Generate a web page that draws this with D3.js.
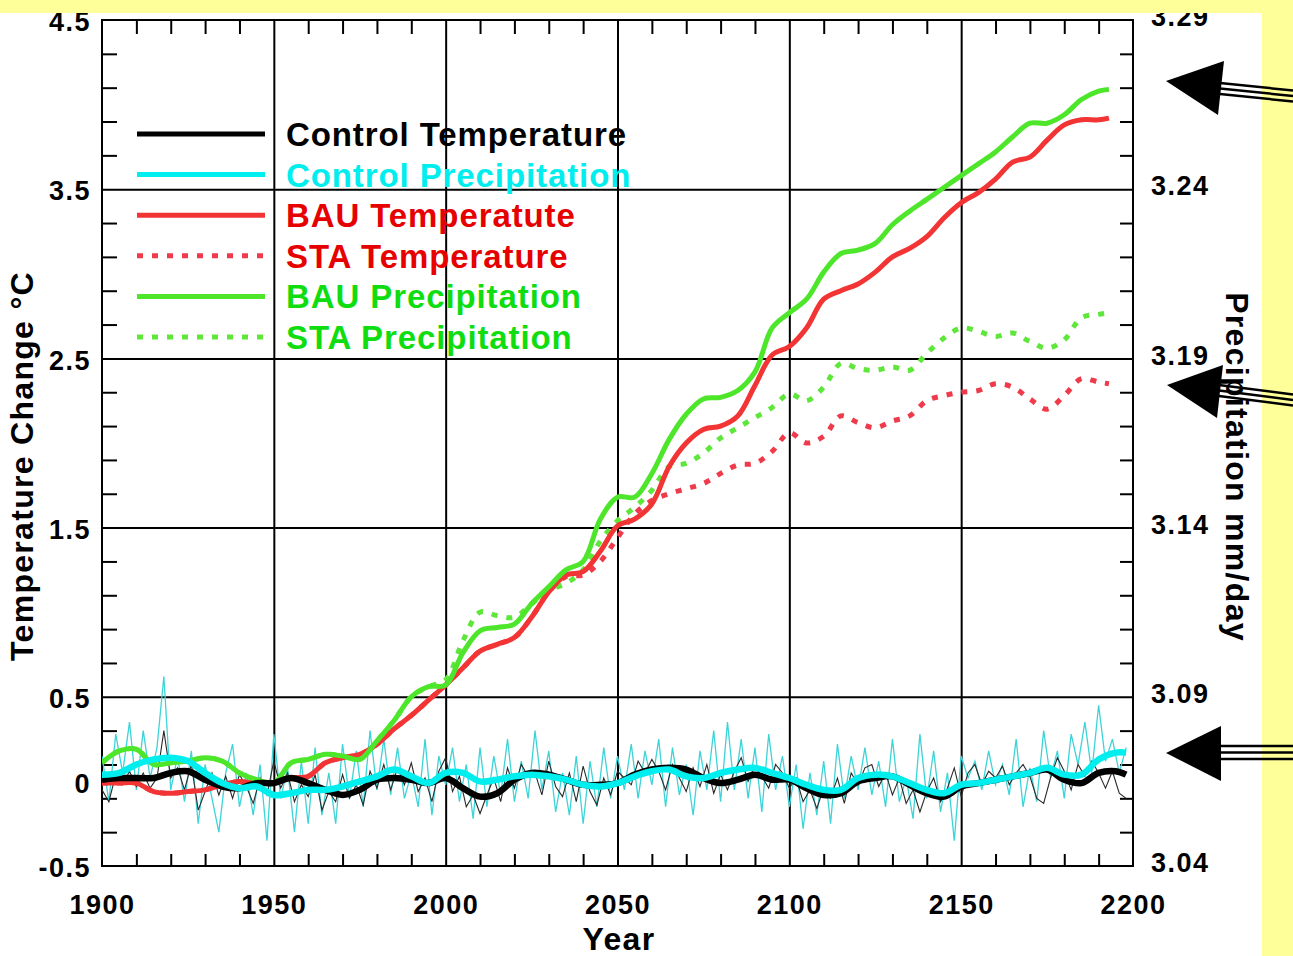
<!DOCTYPE html>
<html lang="en">
<head>
<meta charset="UTF-8">
<title>Temperature and precipitation change</title>
<script src="https://d3js.org/d3.v7.min.js"></script>
<style>
    body { margin: 0; background: #fff; }
    svg { display: block; }
    text { font-family: "Liberation Sans", Arial, Helvetica, sans-serif; font-weight: bold; }
    .domain { display: none; }
    .tick line { stroke: #000; stroke-width: 2; }
    .lbl .tick text { font-size: 27px; fill: #000; letter-spacing: 1.5px; }
    .title { font-size: 32px; fill: #000; letter-spacing: 1.3px; }
    .legend text { font-size: 33px; letter-spacing: 0.9px; }
    .frame { fill: none; stroke: #000; stroke-width: 2; }
    .band { fill: #ffff99; }
</style>
</head>
<body>
<script>
    const W = 1293, H = 956;

    // years of the smoothed curves
    const ctrlYears = [1900,1905,1910,1915,1920,1925,1930,1935,1940,1945,1950,1955,1960,1965,1970,1975,1980,1985,1990,1995,
        2000,2005,2010,2015,2020,2025,2030,2035,2040,2045,2050,2055,2060,2065,2070,2075,2080,2085,2090,2095,
        2100,2105,2110,2115,2120,2125,2130,2135,2140,2145,2150,2155,2160,2165,2170,2175,2180,2185,2190,2195,2198];
    const scenYears = [1900,1905,1910,1915,1920,1925,1930,1935,1940,1945,1950,1955,1960,1965,1970,1975,1980,1985,1990,1995,
        2000,2005,2010,2015,2020,2025,2030,2035,2040,2045,2050,2055,2060,2065,2070,2075,2080,2085,2090,2095,
        2100,2105,2110,2115,2120,2125,2130,2135,2140,2145,2150,2155,2160,2165,2170,2175,2180,2185,2190,2193];
    // years of the raw (thin) control runs
    const annualYears = d3.range(1900, 2199, 2);

    // temperature change, deg C
    const ctrlTempSmooth = [0.01,0.02,0.02,0.02,0.05,0.06,0.01,-0.03,-0.04,-0.01,-0.01,0.02,-0.01,-0.05,-0.08,-0.05,0.01,0.02,0.01,-0.01,
        0.02,-0.04,-0.09,-0.07,0.01,0.05,0.04,0.01,-0.02,-0.02,-0.01,0.04,0.07,0.08,0.07,0.02,-0.01,0.01,0.04,0.01,
        0.01,-0.04,-0.08,-0.07,0.00,0.02,0.03,-0.02,-0.07,-0.09,-0.03,-0.01,0.01,0.03,0.05,0.07,0.01,-0.01,0.05,0.06,0.04];
    const bauTemp = [-0.01,-0.01,-0.01,-0.06,-0.07,-0.06,-0.05,-0.02,0.00,-0.01,-0.01,0.02,0.03,0.11,0.14,0.16,0.22,0.31,0.39,0.48,
        0.57,0.67,0.77,0.81,0.85,0.97,1.12,1.22,1.24,1.36,1.51,1.55,1.64,1.86,2.00,2.08,2.10,2.16,2.34,2.52,
        2.57,2.68,2.85,2.90,2.94,3.01,3.10,3.15,3.22,3.33,3.42,3.48,3.56,3.66,3.69,3.79,3.88,3.91,3.91,3.92];
    const staTemp = [-0.01,-0.01,-0.01,-0.06,-0.07,-0.06,-0.05,-0.02,0.00,-0.01,-0.01,0.02,0.03,0.11,0.14,0.16,0.22,0.31,0.39,0.48,
        0.57,0.67,0.77,0.81,0.85,0.97,1.12,1.21,1.22,1.30,1.44,1.58,1.66,1.70,1.73,1.76,1.82,1.87,1.88,1.95,
        2.06,2.00,2.04,2.16,2.12,2.09,2.13,2.16,2.25,2.28,2.30,2.31,2.35,2.33,2.26,2.20,2.28,2.38,2.36,2.35];
    const ctrlTempAnnual = [-0.05,-0.12,0.04,-0.02,0.06,-0.03,0.05,-0.04,0.02,0.30,0.02,0.08,-0.05,0.10,-0.17,-0.06,0.05,-0.08,0.03,-0.10,
        0.04,-0.03,-0.13,0.02,-0.08,0.12,-0.04,0.05,-0.12,-0.02,-0.09,0.04,-0.17,-0.06,-0.12,0.04,-0.10,-0.02,-0.14,0.06,
        -0.04,0.10,-0.05,0.08,-0.02,0.11,-0.06,0.02,-0.12,0.06,
        0.14,-0.06,0.03,-0.15,-0.08,-0.19,-0.08,0.02,-0.12,0.08,-0.04,0.10,0.03,0.05,-0.08,0.12,-0.03,-0.09,0.05,-0.12,
        0.09,-0.06,-0.14,0.02,-0.08,0.06,0.02,-0.02,0.12,0.05,0.13,0.06,-0.05,0.10,0.02,-0.06,0.08,-0.03,0.10,-0.07,
        0.04,-0.05,0.06,0.14,0.00,0.09,0.03,-0.04,0.10,0.05,
        -0.04,0.02,-0.12,-0.05,-0.16,-0.04,-0.10,0.02,-0.13,0.05,-0.02,0.08,0.10,-0.03,0.05,-0.08,0.02,-0.13,-0.05,-0.18,
        -0.06,0.02,-0.12,-0.04,0.08,-0.09,0.05,0.10,-0.02,0.06,0.02,0.09,-0.02,0.05,0.10,0.03,-0.10,-0.13,0.02,0.14,
        0.06,-0.05,0.10,0.03,0.12,0.05,-0.04,0.06,-0.07,-0.10];

    // precipitation, mm/day
    const ctrlPrecSmooth = [3.067,3.0675,3.070,3.0715,3.072,3.071,3.0675,3.0645,3.063,3.0635,3.061,3.0615,3.0625,3.0625,3.0635,3.065,3.0665,3.0685,3.0665,3.0645,
        3.0675,3.0675,3.065,3.0655,3.0665,3.067,3.0665,3.0655,3.064,3.0635,3.0645,3.0665,3.068,3.0685,3.0665,3.066,3.0675,3.0685,3.069,3.0675,
        3.066,3.064,3.0625,3.0625,3.066,3.067,3.0665,3.0645,3.0625,3.0615,3.064,3.0645,3.0655,3.0665,3.0675,3.069,3.067,3.067,3.0715,3.0735,3.0735];
    const bauPrec = [3.0705,3.074,3.0745,3.070,3.0705,3.071,3.072,3.071,3.0675,3.0655,3.0645,3.0705,3.0715,3.073,3.0725,3.0715,3.077,3.083,3.090,3.093,
        3.0935,3.103,3.1095,3.1105,3.1115,3.1175,3.1225,3.1275,3.130,3.1425,3.149,3.149,3.156,3.166,3.1735,3.178,3.1785,3.1805,3.186,3.199,
        3.2035,3.2075,3.2155,3.221,3.222,3.224,3.2295,3.2335,3.237,3.2405,3.244,3.2475,3.251,3.2555,3.2595,3.2595,3.262,3.2665,3.269,3.2695];
    const staPrec = [3.0705,3.074,3.0745,3.070,3.0705,3.071,3.072,3.071,3.0675,3.0655,3.0645,3.0705,3.0715,3.073,3.0725,3.0715,3.077,3.083,3.090,3.093,
        3.095,3.1065,3.115,3.114,3.1135,3.1175,3.1215,3.1235,3.1275,3.136,3.142,3.146,3.151,3.158,3.159,3.162,3.1665,3.1695,3.1725,3.1755,
        3.1795,3.1775,3.1815,3.1885,3.187,3.1865,3.1875,3.1865,3.1915,3.196,3.199,3.198,3.1965,3.1975,3.195,3.193,3.1955,3.202,3.203,3.2035];
    const ctrlPrecAnnual = [3.0725,3.059,3.079,3.0675,3.0825,3.0625,3.080,3.066,3.075,3.096,3.0625,3.0725,3.059,3.074,3.0525,3.070,3.060,3.050,3.0675,3.076,
        3.0575,3.0675,3.055,3.070,3.0475,3.079,3.060,3.069,3.050,3.071,3.0525,3.075,3.055,3.0675,3.0525,3.076,3.060,3.074,3.0575,3.080,
        3.0625,3.0775,3.061,3.075,3.060,3.0675,3.0575,3.0775,3.055,3.0725,
        3.064,3.075,3.059,3.070,3.054,3.075,3.0575,3.0725,3.061,3.0775,3.059,3.071,3.060,3.080,3.0625,3.074,3.056,3.0675,3.055,3.0725,
        3.0525,3.071,3.0575,3.075,3.060,3.0725,3.0625,3.076,3.060,3.074,3.064,3.0775,3.0575,3.075,3.061,3.070,3.055,3.074,3.0625,3.080,
        3.059,3.0825,3.0625,3.0775,3.060,3.075,3.056,3.079,3.0625,3.0725,
        3.0575,3.070,3.051,3.0675,3.055,3.071,3.0525,3.076,3.060,3.0725,3.0625,3.075,3.061,3.071,3.0575,3.0775,3.059,3.066,3.054,3.079,
        3.060,3.074,3.056,3.0675,3.0475,3.0725,3.066,3.071,3.0625,3.074,3.064,3.070,3.061,3.0775,3.0575,3.069,3.059,3.080,3.066,3.074,
        3.060,3.079,3.070,3.0825,3.0675,3.0875,3.071,3.0775,3.0675,3.075];

    // legend entries
    const legendNames = ["Control Temperature", "Control Precipitation", "BAU Temperatute",
        "STA Temperature", "BAU Precipitation", "STA Precipitation"];

    // axis ticks
    const yearLabels = [1900, 1950, 2000, 2050, 2100, 2150, 2200];
    const yearGrid = [1950, 2000, 2050, 2100, 2150];
    const tempLabels = [-0.5, 0, 0.5, 1.5, 2.5, 3.5, 4.5];
    const tempGrid = [0.5, 1.5, 2.5, 3.5];
    const precLabels = [3.04, 3.09, 3.14, 3.19, 3.24, 3.29];

    const yearMinor = d3.range(1910, 2200, 10).filter(v => v % 50 !== 0);
    const tempMinor = d3.range(-3, 45, 2).map(v => v / 10).filter(v => Math.abs((v + 0.5) % 1) > 0.01);

    const plot = {left: 102, right: 1133, top: 20, bottom: 866};
    const x = d3.scaleLinear().domain([1900, 2200]).range([plot.left, plot.right]);
    const yT = d3.scaleLinear().domain([-0.5, 4.5]).range([plot.bottom, plot.top]);
    const yP = d3.scaleLinear().domain([3.04, 3.29]).range([plot.bottom, plot.top]);

    const style = {
        "Control Temperature":   {color: "#000000", text: "#000000", width: 5},
        "Control Precipitation": {color: "#00eeee", text: "#00eeee", width: 5},
        "BAU Temperatute":       {color: "#f23434", text: "#e60000", width: 5},
        "STA Temperature":       {color: "#ee3a4a", text: "#e60000", width: 5, dash: "6,9"},
        "BAU Precipitation":     {color: "#4ee62a", text: "#10dd10", width: 5},
        "STA Precipitation":     {color: "#5ee63a", text: "#10dd10", width: 5, dash: "6,9"}
    };

    const svg = d3.select("body").append("svg").attr("width", W).attr("height", H);
    svg.append("rect").attr("width", W).attr("height", H).attr("fill", "#fff");

    svg.append("clipPath").attr("id", "clip")
        .append("rect").attr("x", plot.left).attr("y", plot.top)
        .attr("width", plot.right - plot.left).attr("height", plot.bottom - plot.top);

    const fmtT = d => d === 0 ? "0" : d.toFixed(1);

    // grid
    svg.append("g").attr("transform", `translate(0,${plot.bottom})`)
        .call(d3.axisTop(x).tickValues(yearGrid).tickSize(plot.bottom - plot.top).tickFormat(""));
    svg.append("g").attr("transform", `translate(${plot.left},0)`)
        .call(d3.axisRight(yT).tickValues(tempGrid).tickSize(plot.right - plot.left).tickFormat(""));

    // minor ticks pointing inward
    svg.append("g").attr("transform", `translate(0,${plot.bottom})`)
        .call(d3.axisTop(x).tickValues(yearMinor).tickSize(12).tickFormat(""));
    svg.append("g").attr("transform", `translate(0,${plot.top})`)
        .call(d3.axisBottom(x).tickValues(yearMinor).tickSize(14).tickFormat(""));
    svg.append("g").attr("transform", `translate(${plot.left},0)`)
        .call(d3.axisRight(yT).tickValues(tempMinor).tickSize(15).tickFormat(""));
    svg.append("g").attr("transform", `translate(${plot.right},0)`)
        .call(d3.axisLeft(yT).tickValues(tempMinor).tickSize(13).tickFormat(""));

    svg.append("rect").attr("class", "frame")
        .attr("x", plot.left).attr("y", plot.top)
        .attr("width", plot.right - plot.left).attr("height", plot.bottom - plot.top);

    // data
    const data = svg.append("g").attr("clip-path", "url(#clip)");
    const smooth = d3.line().curve(d3.curveCatmullRom.alpha(0.5));
    const raw = d3.line();

    function series(years, vals, scale, gen) {
        return gen(vals.map((v, i) => [x(years[i]), scale(v)]));
    }

    data.append("path").attr("d", series(annualYears, ctrlPrecAnnual, yP, raw))
        .attr("fill", "none").attr("stroke", "#3cd4d8").attr("stroke-width", 1.3);
    data.append("path").attr("d", series(annualYears, ctrlTempAnnual, yT, raw))
        .attr("fill", "none").attr("stroke", "#2a2a2a").attr("stroke-width", 1.1);

    const scenLines = [
        ["STA Temperature", staTemp, yT],
        ["STA Precipitation", staPrec, yP],
        ["BAU Temperatute", bauTemp, yT],
        ["BAU Precipitation", bauPrec, yP]
    ];
    scenLines.forEach(([name, vals, scale]) => {
        const s = style[name];
        data.append("path").attr("d", series(scenYears, vals, scale, smooth))
            .attr("fill", "none").attr("stroke", s.color).attr("stroke-width", s.width)
            .attr("stroke-dasharray", s.dash || null)
            .attr("stroke-linejoin", "round");
    });

    data.append("path").attr("d", series(ctrlYears, ctrlTempSmooth, yT, smooth))
        .attr("fill", "none").attr("stroke", "#000").attr("stroke-width", 6.5);
    data.append("path").attr("d", series(ctrlYears, ctrlPrecSmooth, yP, smooth))
        .attr("fill", "none").attr("stroke", "#00eeee").attr("stroke-width", 6.5);

    // legend
    const legend = svg.append("g").attr("class", "legend");
    legendNames.forEach((name, i) => {
        const s = style[name];
        const ly = 134 + i * 40.6;
        legend.append("line").attr("x1", 137).attr("x2", 265).attr("y1", ly).attr("y2", ly)
            .attr("stroke", s.color).attr("stroke-width", s.width)
            .attr("stroke-dasharray", s.dash || null);
        legend.append("text").attr("x", 286).attr("y", ly + 12)
            .attr("fill", s.text).text(name);
    });

    // tick labels
    svg.append("g").attr("class", "lbl").attr("transform", `translate(0,${plot.bottom})`)
        .call(d3.axisBottom(x).tickValues(yearLabels).tickSize(0).tickPadding(29).tickFormat(d3.format("d")));
    svg.append("g").attr("class", "lbl").attr("transform", `translate(${plot.left},2)`)
        .call(d3.axisLeft(yT).tickValues(tempLabels).tickSize(0).tickPadding(11).tickFormat(fmtT));
    svg.append("g").attr("class", "lbl").attr("transform", `translate(${plot.right},-3)`)
        .call(d3.axisRight(yP).tickValues(precLabels).tickSize(0).tickPadding(18).tickFormat(d3.format(".2f")));

    // axis titles
    svg.append("text").attr("class", "title").attr("text-anchor", "middle")
        .attr("x", 619).attr("y", 950).text("Year");
    svg.append("text").attr("class", "title").attr("text-anchor", "middle")
        .attr("transform", "translate(33,466) rotate(-90)").text("Temperature Change \u00B0C");
    svg.append("text").attr("class", "title").attr("text-anchor", "middle")
        .attr("transform", "translate(1226,467) rotate(90)").text("Precipitation mm/day");

    // yellow slide border
    svg.append("rect").attr("class", "band").attr("x", 0).attr("y", 0).attr("width", W).attr("height", 13);
    svg.append("rect").attr("class", "band").attr("x", 1262).attr("y", 0).attr("width", W - 1262).attr("height", H);

    // pointer arrows
    const arrows = [
        {head: [[1166, 81], [1224, 61], [1218, 115]], shaft: [[1215, 88], [1293, 96]], gap: 5.5},
        {head: [[1167, 385], [1223, 365], [1217, 418]], shaft: [[1215, 390], [1293, 400]], gap: 5.5},
        {head: [[1166, 753], [1221, 726], [1221, 781]], shaft: [[1215, 752.5], [1293, 752.5]], gap: 6.5}
    ];
    const arr = svg.append("g");
    arrows.forEach(a => {
        [-1, 0, 1].forEach(k => {
            arr.append("line")
                .attr("x1", a.shaft[0][0]).attr("y1", a.shaft[0][1] + k * a.gap)
                .attr("x2", a.shaft[1][0]).attr("y2", a.shaft[1][1] + k * a.gap)
                .attr("stroke", "#000").attr("stroke-width", 2.5);
        });
        arr.append("path").attr("d", "M" + a.head.join("L") + "Z").attr("fill", "#000");
    });
</script>
</body>
</html>
